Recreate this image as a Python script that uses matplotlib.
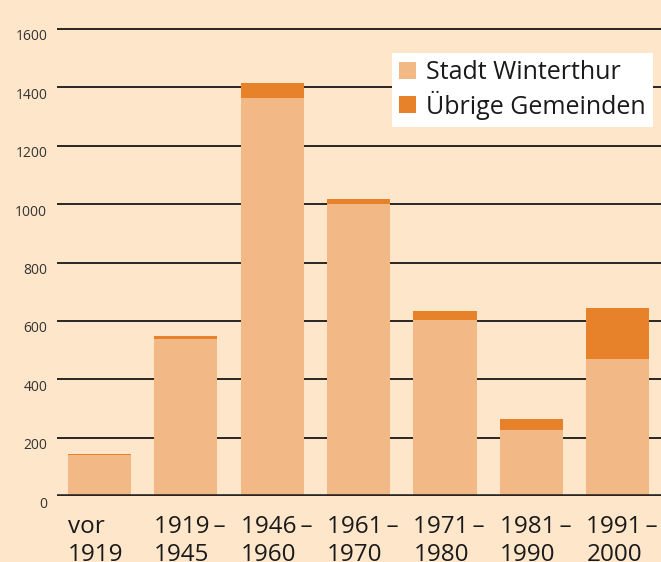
import matplotlib
matplotlib.use("Agg")
import matplotlib.pyplot as plt
import matplotlib.transforms as mtransforms
import numpy as np

categories = ["vor\n1919", "1919\u2009–\n1945", "1946\u2009–\n1960", "1961\u2009–\n1970",
              "1971\u2009–\n1980", "1981\u2009–\n1990", "1991\u2009–\n2000"]
stadt = [142, 538, 1364, 1000, 603, 226, 469]
uebrige = [3, 10, 51, 17, 31, 38, 175]
yticks = [0, 200, 400, 600, 800, 1000, 1200, 1400, 1600]
series_names = ["Stadt Winterthur", "Übrige Gemeinden"]

bg = "#FEE6CB"
light = "#F2B885"
dark = "#E8822A"

plt.rcParams['font.family'] = ['Open Sans', 'DejaVu Sans']

W, H = 661, 562
fig = plt.figure(figsize=(W / 100, H / 100), dpi=100, facecolor=bg)
ymax = 1650
px_per_unit = 467 / 1600
top_px = 496 - ymax * px_per_unit
ax = fig.add_axes([57 / W, (H - 496) / H, (W - 57) / W, (496 - top_px) / H])
ax.set_facecolor(bg)

x = np.arange(len(categories))
width = 0.73
ax.bar(x, stadt, width, color=light, label=series_names[0], zorder=2)
ax.bar(x, uebrige, width, bottom=stadt, color=dark, label=series_names[1], zorder=2)

for t in yticks[1:]:
    ax.axhline(t, color="#2a2522", lw=1.4, zorder=1)
ax.axhline(0, color="#2a2522", lw=2.6, zorder=3)

ax.set_xlim(-0.49, 6.5)
ax.set_ylim(0, ymax)
ax.set_yticks(yticks)
ax.set_yticklabels([str(v) for v in yticks], fontsize=10, color="#333333")
ax.set_xticks(x - width / 2)
ax.set_xticklabels(categories, fontsize=17.5, color="#1a1a1a", ha="left", linespacing=1.18)
ax.tick_params(axis="both", length=0)
ax.tick_params(axis="y", pad=7)
ax.tick_params(axis="x", pad=14)
off = mtransforms.ScaledTranslation(0, -6 / 100, fig.dpi_scale_trans)
for lab in ax.get_yticklabels():
    lab.set_transform(lab.get_transform() + off)
for s in ax.spines.values():
    s.set_visible(False)

leg = ax.legend(loc="upper left", bbox_to_anchor=(392 / W, (H - 53) / H),
                bbox_transform=fig.transFigure, fontsize=18, frameon=True,
                fancybox=False, framealpha=1, edgecolor="white", facecolor="white",
                handlelength=0.68, handleheight=0.68, handletextpad=0.4,
                labelspacing=0.22, borderpad=0.28, borderaxespad=0)
leg.get_frame().set_linewidth(0)
for t in leg.get_texts():
    t.set_color("#1a1a1a")

fig.savefig("out.png", dpi=100, facecolor=bg)
